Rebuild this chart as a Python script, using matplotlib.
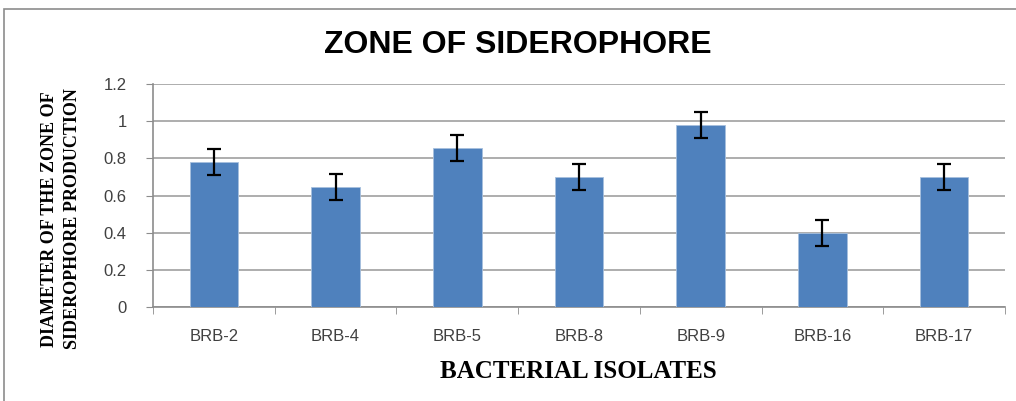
import matplotlib
matplotlib.use("Agg")
import matplotlib.pyplot as plt
from matplotlib.patches import Rectangle

categories = ["BRB-2", "BRB-4", "BRB-5", "BRB-8", "BRB-9", "BRB-16", "BRB-17"]
values = [0.78, 0.645, 0.855, 0.70, 0.98, 0.40, 0.70]
errors = [0.07, 0.07, 0.07, 0.07, 0.07, 0.07, 0.07]
yticks = [0, 0.2, 0.4, 0.6, 0.8, 1.0, 1.2]
ytick_labels = ["0", "0.2", "0.4", "0.6", "0.8", "1", "1.2"]

sans = "Liberation Sans"
serif = "Liberation Serif"

W, H = 1016, 401
fig = plt.figure(figsize=(W / 100, H / 100), dpi=100)
fig.patches.append(Rectangle((4 / W, -0.1), 1.2, 1 - 9 / H + 0.1, transform=fig.transFigure,
                             fill=False, edgecolor="#8c8c8c", linewidth=1.2))

left, right, top, bottom = 153, 1005, 84, 307
ax = fig.add_axes([left / W, 1 - bottom / H, (right - left) / W, (bottom - top) / H])
x = list(range(len(categories)))
ax.bar(x, values, width=0.4, color="#4f81bd", edgecolor="#a7c0de", linewidth=0.6, zorder=3)
ax.errorbar(x, values, yerr=errors, fmt="none", ecolor="black", elinewidth=1.6,
            capsize=5, capthick=1.6, zorder=4)
ax.set_xlim(-0.5, len(categories) - 0.5)
ax.set_ylim(0, 1.2)
ax.set_yticks(yticks)
ax.set_yticklabels(ytick_labels, fontfamily=sans, fontsize=12, color="#404040")
ax.set_xticks(x)
ax.set_xticklabels(categories, fontfamily=sans, fontsize=12, color="#404040")
ax.set_xticks([i + 0.5 for i in range(-1, len(categories))], minor=True)
ax.tick_params(axis="x", which="major", length=0, pad=16)
ax.tick_params(axis="x", which="minor", length=5, color="#8c8c8c", direction="out")
ax.tick_params(axis="y", length=5, color="#8c8c8c", pad=14)
ax.grid(axis="y", color="#a0a0a0", linewidth=1.2, zorder=0)
for s in ["top", "right"]:
    ax.spines[s].set_visible(False)
for s in ["left", "bottom"]:
    ax.spines[s].set_color("#8c8c8c")
    ax.spines[s].set_linewidth(1.2)

fig.text(518 / W, 1 - 45 / H, "ZONE OF SIDEROPHORE", ha="center", va="center",
         fontfamily=sans, fontweight="bold", fontsize=23)
fig.text(578 / W, 1 - 372 / H, "BACTERIAL ISOLATES", ha="center", va="center",
         fontfamily=serif, fontweight="bold", fontsize=18)
fig.text(61 / W, 1 - 219 / H, "DIAMETER OF THE ZONE OF\nSIDEROPHORE PRODUCTION", ha="center",
         va="center", rotation=90, fontfamily=serif, fontweight="bold", fontsize=13,
         linespacing=1.4)

fig.savefig("out.png", dpi=100)
